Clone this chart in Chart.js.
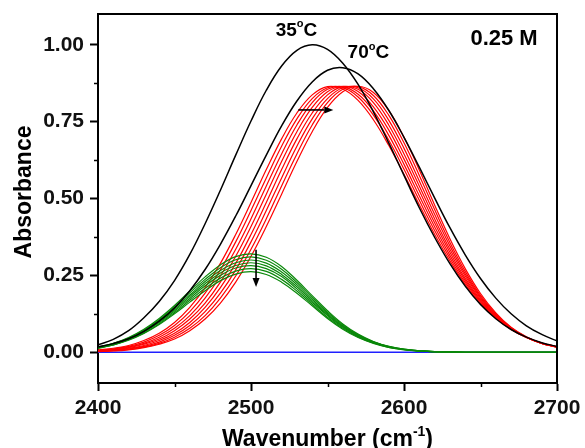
<!DOCTYPE html>
<html>
<head>
<meta charset="utf-8">
<title>Absorbance vs wavenumber</title>
<script src="https://cdn.jsdelivr.net/npm/chart.js@4.4.1/dist/chart.umd.min.js"></script>
<style>
    html, body { margin: 0; padding: 0; background: #fff; }
    #wrap { width: 585px; height: 448px; }
</style>
</head>
<body>
<div id="wrap"><canvas id="spectra" width="585" height="448"></canvas></div>
<script>
// Wavenumber grid (cm-1) shared by every spectrum
const wavenumber = [2400, 2410, 2420, 2430, 2440, 2450, 2460, 2470, 2480, 2490,
                    2500, 2510, 2520, 2530, 2540, 2550, 2560, 2570, 2580, 2590,
                    2600, 2610, 2620, 2630, 2640, 2650, 2660, 2670, 2680, 2690, 2700];

// Measured band at 35 C and 70 C
const abs35C = [0.024, 0.042, 0.070, 0.112, 0.165, 0.233, 0.318, 0.418, 0.527, 0.641,
                0.752, 0.852, 0.931, 0.982, 1.000, 0.985, 0.940, 0.871, 0.782, 0.681,
                0.575, 0.470, 0.374, 0.288, 0.215, 0.155, 0.109, 0.074, 0.049, 0.031, 0.019];
const abs70C = [0.017, 0.028, 0.044, 0.068, 0.101, 0.144, 0.200, 0.269, 0.351, 0.443,
                0.542, 0.641, 0.736, 0.817, 0.879, 0.917, 0.925, 0.905, 0.857, 0.787,
                0.699, 0.602, 0.502, 0.405, 0.317, 0.240, 0.176, 0.125, 0.086, 0.058, 0.037];

// High-frequency component (red), 35 C -> 70 C
const redFit1 = [0.007, 0.013, 0.022, 0.038, 0.062, 0.097, 0.146, 0.210, 0.289, 0.383,
                 0.487, 0.594, 0.694, 0.778, 0.837, 0.864, 0.856, 0.819, 0.756, 0.673,
                 0.579, 0.480, 0.384, 0.297, 0.221, 0.159, 0.111, 0.074, 0.048, 0.030, 0.018];
const redFit2 = [0.006, 0.011, 0.019, 0.033, 0.055, 0.087, 0.132, 0.192, 0.268, 0.359,
                 0.461, 0.567, 0.670, 0.759, 0.825, 0.860, 0.861, 0.830, 0.771, 0.690,
                 0.595, 0.494, 0.396, 0.306, 0.227, 0.163, 0.113, 0.075, 0.048, 0.030, 0.018];
const redFit3 = [0.005, 0.009, 0.017, 0.029, 0.049, 0.078, 0.119, 0.176, 0.248, 0.335,
                 0.434, 0.541, 0.645, 0.739, 0.812, 0.855, 0.864, 0.839, 0.785, 0.706,
                 0.611, 0.509, 0.408, 0.315, 0.234, 0.167, 0.115, 0.076, 0.048, 0.030, 0.017];
const redFit4 = [0.004, 0.008, 0.015, 0.026, 0.043, 0.070, 0.108, 0.160, 0.228, 0.312,
                 0.409, 0.514, 0.620, 0.717, 0.796, 0.847, 0.865, 0.848, 0.798, 0.723,
                 0.628, 0.525, 0.421, 0.325, 0.240, 0.171, 0.117, 0.077, 0.049, 0.029, 0.017];
const redFit5 = [0.004, 0.007, 0.013, 0.022, 0.038, 0.062, 0.097, 0.146, 0.210, 0.289,
                 0.383, 0.487, 0.594, 0.694, 0.778, 0.837, 0.864, 0.855, 0.812, 0.739,
                 0.645, 0.541, 0.434, 0.335, 0.248, 0.176, 0.119, 0.078, 0.049, 0.029, 0.017];
const redFit6 = [0.003, 0.006, 0.011, 0.019, 0.033, 0.055, 0.087, 0.132, 0.192, 0.268,
                 0.359, 0.461, 0.567, 0.670, 0.759, 0.825, 0.860, 0.860, 0.824, 0.755,
                 0.663, 0.557, 0.449, 0.346, 0.255, 0.180, 0.122, 0.079, 0.049, 0.029, 0.017];
const redFit7 = [0.003, 0.005, 0.009, 0.017, 0.029, 0.049, 0.078, 0.119, 0.176, 0.248,
                 0.335, 0.434, 0.541, 0.645, 0.739, 0.812, 0.855, 0.864, 0.835, 0.771,
                 0.681, 0.575, 0.464, 0.357, 0.263, 0.185, 0.125, 0.080, 0.049, 0.029, 0.016];
const redFit8 = [0.002, 0.004, 0.008, 0.015, 0.026, 0.043, 0.070, 0.108, 0.160, 0.228,
                 0.312, 0.409, 0.514, 0.620, 0.717, 0.796, 0.847, 0.865, 0.845, 0.787,
                 0.699, 0.593, 0.479, 0.369, 0.272, 0.191, 0.128, 0.081, 0.050, 0.029, 0.016];

// Low-frequency component (green), 35 C -> 70 C
const greenFit1 = [0.016, 0.029, 0.048, 0.075, 0.110, 0.152, 0.199, 0.245, 0.284, 0.311,
                   0.320, 0.309, 0.279, 0.234, 0.184, 0.135, 0.092, 0.059, 0.035, 0.019,
                   0.010, 0.005, 0.002, 0.001, 0, 0, 0, 0, 0, 0, 0];
const greenFit2 = [0.016, 0.028, 0.046, 0.072, 0.106, 0.147, 0.193, 0.237, 0.275, 0.301,
                   0.310, 0.299, 0.270, 0.227, 0.178, 0.130, 0.089, 0.057, 0.034, 0.019,
                   0.010, 0.005, 0.002, 0.001, 0, 0, 0, 0, 0, 0, 0];
const greenFit3 = [0.015, 0.027, 0.045, 0.070, 0.103, 0.143, 0.186, 0.230, 0.266, 0.291,
                   0.300, 0.290, 0.261, 0.220, 0.172, 0.126, 0.086, 0.055, 0.033, 0.018,
                   0.009, 0.005, 0.002, 0.001, 0, 0, 0, 0, 0, 0, 0];
const greenFit4 = [0.015, 0.026, 0.043, 0.068, 0.100, 0.138, 0.181, 0.223, 0.258, 0.282,
                   0.291, 0.281, 0.253, 0.213, 0.167, 0.122, 0.084, 0.053, 0.032, 0.018,
                   0.009, 0.004, 0.002, 0.001, 0, 0, 0, 0, 0, 0, 0];
const greenFit5 = [0.014, 0.025, 0.042, 0.066, 0.097, 0.134, 0.175, 0.216, 0.250, 0.274,
                   0.282, 0.272, 0.246, 0.206, 0.162, 0.119, 0.081, 0.052, 0.031, 0.017,
                   0.009, 0.004, 0.002, 0.001, 0, 0, 0, 0, 0, 0, 0];
const greenFit6 = [0.014, 0.024, 0.041, 0.063, 0.093, 0.129, 0.169, 0.208, 0.241, 0.264,
                   0.272, 0.263, 0.237, 0.199, 0.156, 0.114, 0.078, 0.050, 0.030, 0.016,
                   0.009, 0.004, 0.002, 0.001, 0, 0, 0, 0, 0, 0, 0];
const greenFit7 = [0.013, 0.024, 0.039, 0.061, 0.090, 0.125, 0.163, 0.200, 0.233, 0.254,
                   0.262, 0.253, 0.228, 0.192, 0.151, 0.110, 0.075, 0.048, 0.029, 0.016,
                   0.008, 0.004, 0.002, 0.001, 0, 0, 0, 0, 0, 0, 0];

// Zero line
const baselineX = [2400, 2700];
const baselineY = [0, 0];

// Axis ticks
const xMajorTicks = [2400, 2500, 2600, 2700];
const xMinorTicks = [2450, 2550, 2650];
const yMajorTicks = [0, 0.25, 0.5, 0.75, 1.0];
const yMinorTicks = [0.125, 0.375, 0.625, 0.875];

const redFits = [redFit1, redFit2, redFit3, redFit4, redFit5, redFit6, redFit7, redFit8];
const greenFits = [greenFit1, greenFit2, greenFit3, greenFit4, greenFit5, greenFit6, greenFit7];

// Text notes and arrows, placed in data units
const notes = [
    { text: '35', sup: 'o', tail: 'C', x: 2529.7, y: 1.030, size: 19 },
    { text: '70', sup: 'o', tail: 'C', x: 2576.7, y: 0.956, size: 19 },
    { text: '0.25 M', sup: '', tail: '', x: 2665.4, y: 0.998, size: 22 }
];
const arrows = [
    { from: [2530.9, 0.788], to: [2553.8, 0.788] },
    { from: [2503.3, 0.333], to: [2503.3, 0.212] }
];

const FONT = '"Liberation Sans", Arial, Helvetica, sans-serif';

const toPoints = (xs, ys) => xs.map((w, i) => ({ x: w, y: ys[i] }));

function curve(ys, color, width, order) {
    return {
        data: toPoints(wavenumber, ys),
        borderColor: color,
        borderWidth: width,
        pointRadius: 0,
        fill: false,
        tension: 0.4,
        order: order
    };
}

function drawNote(ctx, n, px, py) {
    const big = `700 ${n.size}px ${FONT}`;
    const small = `700 ${Math.round(n.size * 0.6)}px ${FONT}`;
    ctx.font = big;
    const w1 = ctx.measureText(n.text).width;
    const w3 = ctx.measureText(n.tail).width;
    ctx.font = small;
    const w2 = ctx.measureText(n.sup).width;
    let x = px - (w1 + w2 + w3) / 2;
    ctx.textAlign = 'left';
    ctx.textBaseline = 'alphabetic';
    ctx.font = big;
    ctx.fillText(n.text, x, py);
    x += w1;
    ctx.font = small;
    ctx.fillText(n.sup, x, py - n.size * 0.45);
    x += w2;
    ctx.font = big;
    ctx.fillText(n.tail, x, py);
}

function drawArrow(ctx, x1, y1, x2, y2) {
    const ang = Math.atan2(y2 - y1, x2 - x1);
    const len = 9, half = 3.5;
    ctx.beginPath();
    ctx.moveTo(x1, y1);
    ctx.lineTo(x2 - len * Math.cos(ang), y2 - len * Math.sin(ang));
    ctx.stroke();
    ctx.beginPath();
    ctx.moveTo(x2, y2);
    ctx.lineTo(x2 - len * Math.cos(ang) + half * Math.sin(ang), y2 - len * Math.sin(ang) - half * Math.cos(ang));
    ctx.lineTo(x2 - len * Math.cos(ang) - half * Math.sin(ang), y2 - len * Math.sin(ang) + half * Math.cos(ang));
    ctx.closePath();
    ctx.fill();
}

// Box, minor ticks, axis titles, notes and arrows
const decorations = {
    id: 'decorations',
    afterDraw(chart) {
        const { ctx, chartArea: a } = chart;
        const xs = chart.scales.x, ys = chart.scales.y;
        ctx.save();
        ctx.strokeStyle = '#000';
        ctx.fillStyle = '#000';

        ctx.lineWidth = 2;
        ctx.beginPath();
        ctx.moveTo(a.left - 1, a.top);
        ctx.lineTo(a.right, a.top);
        ctx.lineTo(a.right, a.bottom + 1);
        ctx.stroke();

        ctx.lineWidth = 1.5;
        ctx.beginPath();
        xMinorTicks.forEach(v => {
            const px = Math.round(xs.getPixelForValue(v)) + 0.5;
            ctx.moveTo(px, a.bottom);
            ctx.lineTo(px, a.bottom + 4);
        });
        yMinorTicks.forEach(v => {
            const py = Math.round(ys.getPixelForValue(v)) + 0.5;
            ctx.moveTo(a.left, py);
            ctx.lineTo(a.left - 4, py);
        });
        ctx.stroke();

        // axis titles
        ctx.font = `700 23px ${FONT}`;
        ctx.textAlign = 'center';
        ctx.textBaseline = 'middle';
        ctx.save();
        ctx.translate(25, 192);
        ctx.rotate(-Math.PI / 2);
        ctx.fillText('Absorbance', 0, 0);
        ctx.restore();

        const base = 'Wavenumber (cm', sup = '-1', tail = ')';
        ctx.textAlign = 'left';
        ctx.textBaseline = 'alphabetic';
        ctx.font = `700 23px ${FONT}`;
        const wb = ctx.measureText(base).width, wt = ctx.measureText(tail).width;
        ctx.font = `700 14px ${FONT}`;
        const ws = ctx.measureText(sup).width;
        let tx = (a.left + a.right) / 2 - (wb + ws + wt) / 2;
        const ty = 446;
        ctx.font = `700 23px ${FONT}`;
        ctx.fillText(base, tx, ty);
        tx += wb;
        ctx.font = `700 14px ${FONT}`;
        ctx.fillText(sup, tx, ty - 10);
        tx += ws;
        ctx.font = `700 23px ${FONT}`;
        ctx.fillText(tail, tx, ty);

        notes.forEach(n => drawNote(ctx, n, xs.getPixelForValue(n.x), ys.getPixelForValue(n.y)));

        ctx.lineWidth = 1.6;
        arrows.forEach(ar => drawArrow(ctx,
            xs.getPixelForValue(ar.from[0]), ys.getPixelForValue(ar.from[1]),
            xs.getPixelForValue(ar.to[0]), ys.getPixelForValue(ar.to[1])));
        ctx.restore();
    }
};

const tickFont = { family: FONT, size: 21, weight: 'bold' };

const datasets = [
    {
        data: toPoints(baselineX, baselineY),
        borderColor: '#2020ff',
        borderWidth: 1.5,
        pointRadius: 0,
        fill: false,
        order: 4
    },
    ...redFits.map(ys => curve(ys, '#ff0000', 1.2, 3)),
    ...greenFits.map(ys => curve(ys, '#0a880a', 1.2, 2)),
    curve(abs35C, '#000000', 1.5, 1),
    curve(abs70C, '#000000', 1.5, 1)
];

new Chart(document.getElementById('spectra'), {
    type: 'line',
    data: { datasets },
    options: {
        responsive: false,
        animation: false,
        devicePixelRatio: 1,
        events: [],
        layout: { padding: { top: 14, right: 28, left: 0, bottom: 0 } },
        plugins: {
            legend: { display: false },
            tooltip: { enabled: false }
        },
        scales: {
            x: {
                type: 'linear',
                min: 2400,
                max: 2700,
                afterFit: s => { s.height = 65; s.paddingLeft = 0; s.paddingRight = 0; },
                afterBuildTicks: s => { s.ticks = xMajorTicks.map(v => ({ value: v })); },
                border: { display: true, color: '#000', width: 2 },
                grid: { drawOnChartArea: false, drawTicks: true, tickLength: 8, tickWidth: 2, color: '#000' },
                ticks: {
                    font: tickFont,
                    color: '#111',
                    padding: 5,
                    maxRotation: 0,
                    autoSkip: false,
                    callback: v => String(v)
                }
            },
            y: {
                type: 'linear',
                min: -0.1,
                max: 1.1,
                afterFit: s => { s.width = 98; s.paddingTop = 0; s.paddingBottom = 0; },
                afterBuildTicks: s => { s.ticks = yMajorTicks.map(v => ({ value: v })); },
                border: { display: true, color: '#000', width: 2 },
                grid: { drawOnChartArea: false, drawTicks: true, tickLength: 8, tickWidth: 2, color: '#000' },
                ticks: {
                    font: tickFont,
                    color: '#111',
                    padding: 6,
                    autoSkip: false,
                    callback: v => v.toFixed(2)
                }
            }
        }
    },
    plugins: [decorations]
});
</script>
</body>
</html>
